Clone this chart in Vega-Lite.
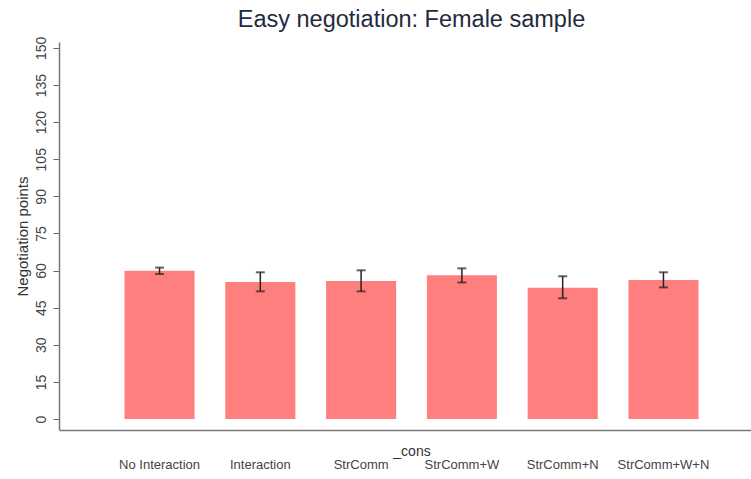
{
  "$schema": "https://vega.github.io/schema/vega-lite/v6.json",
  "width": 705,
  "height": 388,
  "autosize": {"type": "none"},
  "padding": {"left": 59, "top": 42, "right": -13, "bottom": 49},
  "background": "white",
  "config": {
    "view": {"stroke": null},
    "font": "Liberation Sans"
  },
  "title": {
    "text": "Easy negotiation: Female sample",
    "fontSize": 23.5,
    "fontWeight": "normal",
    "color": "#1f2b3e",
    "frame": "group",
    "anchor": "middle",
    "baseline": "alphabetic",
    "offset": 13,
    "dy": 27
  },
  "data": {
    "values": [
      {"group": "No Interaction", "mean": 59.9, "lo": 58.6, "hi": 61.2},
      {"group": "Interaction", "mean": 55.4, "lo": 51.6, "hi": 59.3},
      {"group": "StrComm", "mean": 55.8, "lo": 51.6, "hi": 60.1},
      {"group": "StrComm+W", "mean": 58.1, "lo": 55.2, "hi": 60.9},
      {"group": "StrComm+N", "mean": 53.1, "lo": 48.8, "hi": 57.7},
      {"group": "StrComm+W+N", "mean": 56.2, "lo": 53.2, "hi": 59.3}
    ]
  },
  "resolve": {"axis": {"y": "independent"}},
  "encoding": {
    "x": {
      "field": "group",
      "type": "nominal",
      "sort": null,
      "scale": {"paddingInner": 0.305, "paddingOuter": 0.65},
      "axis": {
        "title": "_cons",
        "titleFontSize": 14,
        "titleFontWeight": "normal",
        "titleColor": "#333",
        "titleY": 25,
        "titleBaseline": "alphabetic",
        "labelAngle": 0,
        "labelFontSize": 13,
        "labelColor": "#444",
        "labelPadding": 28,
        "labelOverlap": false,
        "labelLimit": 200,
        "ticks": false,
        "domainColor": "#777",
        "domainWidth": 1.5,
        "grid": false
      }
    }
  },
  "layer": [
    {
      "mark": {"type": "bar", "color": "#FF7F7F"},
      "encoding": {
        "y": {
          "field": "mean",
          "type": "quantitative",
          "scale": {"domain": [-4.45, 152.4], "nice": false, "zero": false},
          "axis": {
            "title": "Negotiation points",
            "titleFontSize": 15,
            "titleFontWeight": "normal",
            "titleColor": "#333",
            "titlePadding": 4,
            "values": [0, 15, 30, 45, 60, 75, 90, 105, 120, 135, 150],
            "labelAngle": -90,
            "labelAlign": "center",
            "labelBaseline": "bottom",
            "labelFontSize": 14,
            "labelColor": "#444",
            "labelPadding": 5,
            "labelOverlap": false,
            "tickSize": 6,
            "tickColor": "#666",
            "domainColor": "#777",
            "domainWidth": 1.5,
            "grid": false
          }
        },
        "y2": {"datum": 0}
      }
    },
    {
      "mark": {"type": "rule", "color": "#2a2020", "strokeWidth": 1.5},
      "encoding": {
        "y": {"field": "lo", "type": "quantitative", "axis": null},
        "y2": {"field": "hi"}
      }
    },
    {
      "mark": {"type": "tick", "color": "#2a2020", "size": 9, "thickness": 2, "orient": "horizontal"},
      "encoding": {
        "y": {"field": "lo", "type": "quantitative", "axis": null}
      }
    },
    {
      "mark": {"type": "tick", "color": "#2a2020", "size": 9, "thickness": 2, "orient": "horizontal"},
      "encoding": {
        "y": {"field": "hi", "type": "quantitative", "axis": null}
      }
    }
  ]
}
